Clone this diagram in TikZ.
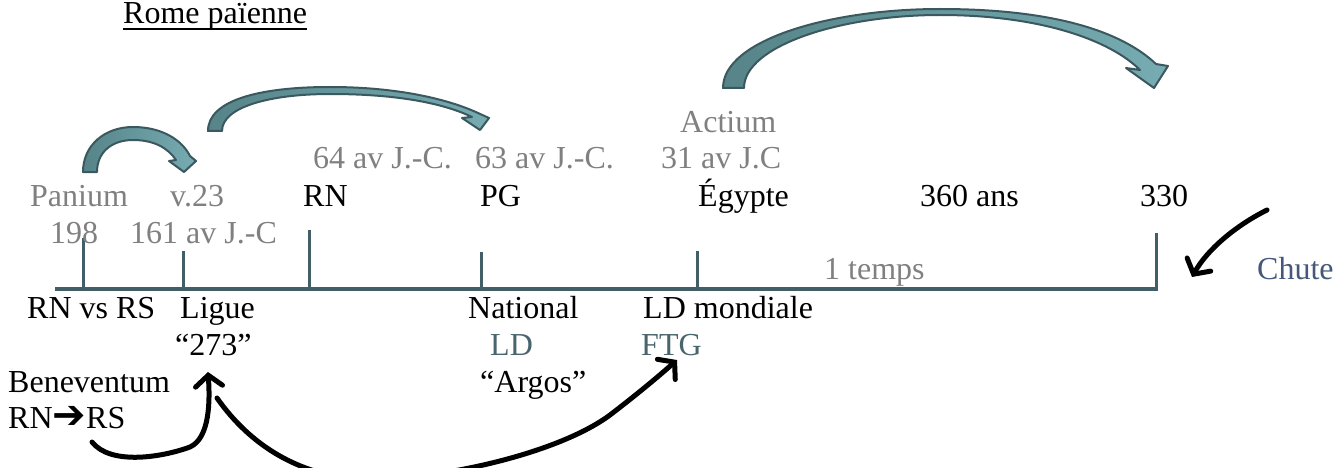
\documentclass[tikz,border=0pt]{standalone}
\usepackage{fontspec}
\setmainfont{Liberation Serif}
\newfontfamily\arrowfont{DejaVu Sans}
\usetikzlibrary{arrows.meta}
\definecolor{axisline}{RGB}{66,94,102}
\definecolor{datetext}{RGB}{128,128,128}
\definecolor{ldtext}{RGB}{72,100,108}
\definecolor{chutetext}{RGB}{70,88,122}
\definecolor{bandfill}{RGB}{86,132,136}
\definecolor{bandlight}{RGB}{118,172,178}
\definecolor{bandedge}{RGB}{58,88,94}

\begin{document}
\begin{tikzpicture}[
  x=1pt,
  y=-1pt,
  font=\fontsize{32}{38}\selectfont,
  label/.style={
    anchor=base west,
    inner sep=0pt,
    text=black
  },
  date/.style={label,text=datetext},
  ld/.style={label,text=ldtext},
  axis/.style={draw=axisline,line width=4pt},
  tick/.style={draw=axisline,line width=3pt},
  band/.style={
    draw=bandedge,
    line width=2pt,
    line join=round,
    left color=bandfill,
    right color=bandlight
  },
  hand/.style={
    draw=black,
    line width=5pt,
    line cap=round,
    line join=round,
    -{Straight Barb[length=11pt,width=27pt,line cap=round]}
  }
]
\useasboundingbox (0,0) rectangle (1341,468);
\clip (0,0) rectangle (1341,468);

% Title
\node[label] (title) at (123,24) {Rome païenne};
\draw[line width=2pt] ([yshift=-5pt]title.base west) -- ([yshift=-5pt]title.base east);

% Time axis and ticks
\coordinate (axisstart) at (55,289);
\coordinate (axisend) at (1158,289);
\draw[axis] (axisstart) -- (axisend);

\coordinate (t198) at (83,289);
\coordinate (t161) at (183,289);
\coordinate (t64) at (309,289);
\coordinate (t63) at (481,289);
\coordinate (t31) at (697,289);
\coordinate (t330) at (1156,289);
\draw[tick] (t198) -- (83,238);
\draw[tick] (t161) -- (183,251);
\draw[tick] (t64) -- (309,230);
\draw[tick] (t63) -- (481,252);
\draw[tick] (t31) -- (697,251);
\draw[tick] (t330) -- (1156,233);

% Dates above the axis
\node[date] (panium) at (30,206) {Panium};
\node[date] (y198) at (50,243) {198};
\node[date] (v23) at (170,206) {v.23};
\node[date] (y161) at (130,243) {161 av J.-C};
\node[date] (y64) at (313,168) {64 av J.-C.};
\node[label] (rn) at (303,206) {RN};
\node[date] (y63) at (475,168) {63 av J.-C.};
\node[label] (pg) at (480,206) {PG};
\node[date] (actium) at (680,132) {Actium};
\node[date] (y31) at (661,168) {31 av J.C};
\node[label] (egypte) at (698,206) {Égypte};
\node[label] (ans) at (920,206) {360 ans};
\node[label] (y330) at (1140,206) {330};
\node[date] (temps) at (824,279) {1 temps};
\node[label,text=chutetext] (chute) at (1257,279) {Chute};

% Labels below the axis
\node[label] (rnvsrs) at (27,318) {RN vs RS};
\node[label] (ligue) at (180,318) {Ligue};
\node[label] (q273) at (175,355) {“273”};
\node[label] (national) at (468,318) {National};
\node[ld] (ld) at (490,355) {LD};
\node[label] (argos) at (480,392) {“Argos”};
\node[label] (ldmond) at (643,318) {LD mondiale};
\node[ld] (ftg) at (641,355) {FTG};
\node[label] (benev) at (8,392) {Beneventum};
\node[label] (rnrs) at (8,428) {RN{\arrowfont\bfseries\fontsize{40}{40}\selectfont ➔}RS};

% Curved block arrows
\draw[band] (83,172) .. controls (83,145) and (105,127) .. (133,127)
  .. controls (162,127) and (182,140) .. (190,156) -- (196,161) -- (184,172)
  -- (169,161) -- (176,160) .. controls (168,148) and (154,140) .. (133,140)
  .. controls (112,140) and (97,152) .. (97,172) -- cycle;
\draw[band] (208,131) .. controls (208,100) and (260,87) .. (330,87)
  .. controls (400,87) and (450,100) .. (478,113) -- (489,118) -- (480,130)
  -- (462,118) -- (472,117) .. controls (445,104) and (400,94) .. (330,94)
  .. controls (270,94) and (222,107) .. (222,131) -- cycle;
\draw[band] (723,88) .. controls (723,40) and (830,9) .. (940,9)
  .. controls (1050,9) and (1120,30) .. (1156,64) -- (1168,66) -- (1154,88)
  -- (1126,68) -- (1140,70) .. controls (1110,40) and (1040,15) .. (940,15)
  .. controls (840,15) and (744,46) .. (744,88) -- cycle;

% Hand drawn arrows
\coordinate (chutefrom) at (1267,210);
\coordinate (chuteto) at (1192,277);
\draw[hand] (chutefrom) .. controls (1235,226) and (1207,250) .. (chuteto);

\coordinate (benevfrom) at (92,442);
\coordinate (ligueto) at (208,372);
\draw[hand] (benevfrom) .. controls (110,465) and (160,458) .. (190,447)
  .. controls (210,438) and (210,400) .. (ligueto);

\coordinate (ftgfrom) at (217,398);
\coordinate (ftgto) at (677,360);
\draw[hand] (ftgfrom) .. controls (250,445) and (300,478) .. (370,480)
  .. controls (450,478) and (560,452) .. (610,415)
  .. controls (640,392) and (660,375) .. (ftgto);

\end{tikzpicture}
\end{document}
